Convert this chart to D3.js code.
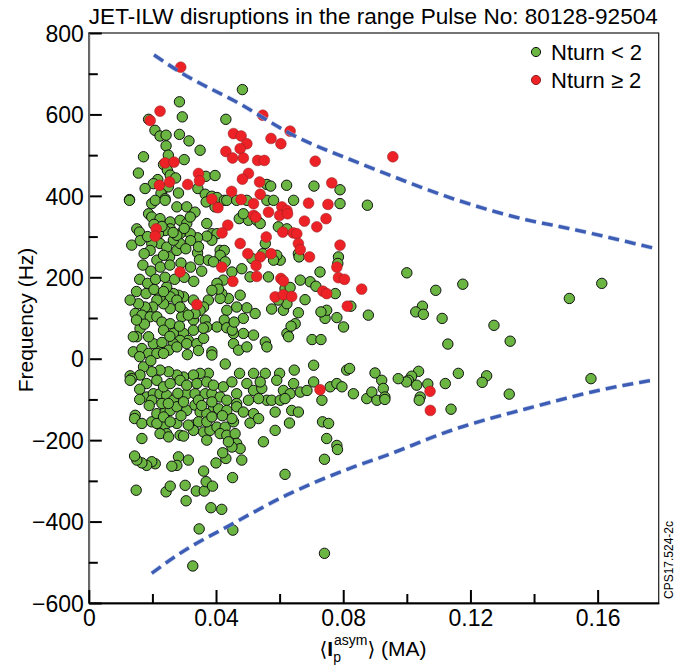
<!DOCTYPE html>
<html>
<head>
<meta charset="utf-8">
<script src="https://cdn.jsdelivr.net/npm/d3@7"></script>
<style>
  html, body { margin: 0; padding: 0; background: #fff; }
  svg { display: block; }
  text { font-family: "Liberation Sans", Arial, sans-serif; fill: #000; }
</style>
</head>
<body>
<svg id="chart" width="689" height="668"></svg>
<script>
// ---------------- DATA ----------------
const titleText = "JET-ILW disruptions in the range Pulse No: 80128-92504";
const xTicksMajor = [0, 0.04, 0.08, 0.12, 0.16];
const xTicksMinor = [0.02, 0.06, 0.10, 0.14];
const yTicksMajor = [-600, -400, -200, 0, 200, 400, 600, 800];
const yTicksMinor = [-500, -300, -100, 100, 300, 500, 700];
const legendLabels = ["Nturn < 2", "Nturn \u2265 2"];

// Nturn < 2 (green)  [<Ip asym> (MA), frequency (Hz)]
const nturnLow = [
[0.0483,661],[0.0285,631],[0.0294,594],[0.0188,588],[0.0431,588],[0.0208,561],[0.0224,547],[0.0243,549],[0.0285,551],[0.0315,535],
[0.0243,523],[0.0350,512],[0.0172,496],[0.0250,500],[0.0300,489],[0.0235,477],[0.0156,456],[0.0247,463],[0.0256,451],[0.0273,444],
[0.0368,448],[0.0397,450],[0.0217,440],[0.0203,430],[0.0177,418],[0.0235,418],[0.0250,422],[0.0343,418],[0.0227,406],[0.0282,407],
[0.0366,404],[0.0387,399],[0.0403,396],[0.0426,389],[0.0560,428],[0.0572,424],[0.0622,426],[0.0708,424],[0.0790,415],[0.0128,391],
[0.0240,393],
[0.0128,389],[0.0198,381],[0.0209,389],[0.0240,389],[0.0277,373],[0.0308,373],[0.0334,360],[0.0369,385],[0.0397,373],[0.0434,389],
[0.0465,389],[0.0497,389],[0.0473,344],[0.0502,340],[0.0528,340],[0.0486,356],[0.0560,389],[0.0581,389],[0.0644,389],[0.0790,381],
[0.0876,377],[0.0188,356],[0.0198,348],[0.0224,344],[0.0256,336],[0.0287,340],[0.0308,332],[0.0319,348],[0.0371,332],[0.0387,307],
[0.0403,307],[0.0387,291],[0.0371,301],[0.0342,297],[0.0319,307],[0.0287,307],[0.0256,319],[0.0240,315],[0.0219,307],[0.0224,283],
[0.0198,283],[0.0193,266],[0.0151,319],[0.0159,311],[0.0135,279],[0.0174,258],[0.0245,274],[0.0254,250],[0.0214,242],[0.0235,254],
[0.0277,266],[0.0287,283],[0.0266,291],[0.0277,303],[0.0342,260],[0.0348,243],[0.0413,266],[0.0426,266],[0.0413,254],[0.0376,242],
[0.0392,238],[0.0429,238],[0.0481,221],[0.0450,213],[0.0507,201],[0.0565,201],[0.0513,246],[0.0555,283],[0.0547,258],[0.0602,242],
[0.0591,254],[0.0581,242],[0.0659,258],[0.0661,250],[0.0596,324],[0.0623,319],[0.0539,332],[0.0727,213],[0.0696,189],[0.0665,193],
[0.0714,178],[0.0775,160],[0.0785,250],[0.0783,234],[0.0879,107],[0.0824,129],[0.0801,78],[0.0780,101],[0.0743,99],[0.0748,119],
[0.0730,115],[0.0680,145],[0.0659,113],[0.0649,86],[0.0623,62],[0.0628,54],[0.0636,80],[0.0612,119],[0.0623,135],[0.0596,144],
[0.0617,172],[0.0633,175],[0.0575,122],[0.0523,111],[0.0497,125],[0.0486,62],[0.0518,58],[0.0555,41],[0.0560,29],[0.0455,37],
[0.0455,62],[0.0486,99],[0.0465,127],[0.0434,119],[0.0426,95],[0.0403,78],[0.0434,76],[0.0451,70],[0.0457,90],[0.0476,156],
[0.0439,148],[0.0418,160],[0.0413,148],[0.0423,193],[0.0403,185],[0.0408,171],[0.0387,168],[0.0376,144],[0.0361,127],[0.0350,119],
[0.0366,95],[0.0371,78],[0.0329,95],[0.0334,111],[0.0298,115],[0.0292,103],[0.0313,107],[0.0329,144],[0.0298,152],[0.0282,156],
[0.0266,160],[0.0245,176],[0.0256,152],[0.0277,144],[0.0287,127],[0.0256,123],[0.0235,135],[0.0224,152],[0.0214,144],[0.0201,127],
[0.0182,119],[0.0177,127],[0.0156,135],[0.0130,144],[0.0146,111],[0.0167,107],[0.0193,103],[0.0214,103],[0.0230,90],[0.0256,86],
[0.0235,70],[0.0266,62],[0.0298,62],[0.0329,70],[0.0313,45],[0.0287,45],[0.0266,37],[0.0251,21],[0.0219,29],[0.0203,37],
[0.0188,54],[0.0161,74],[0.0151,54],[0.0140,54],[0.0140,17],[0.0167,25],[0.0188,13],[0.0214,13],[0.0235,13],[0.0277,29],
[0.0308,37],[0.0340,37],[0.0361,50],[0.0387,17],[0.0387,9],[0.0429,-13],[0.0471,21],[0.0497,29],[0.0702,47],[0.0730,47],
[0.0707,-16],[0.0646,-28],[0.0600,-36],[0.0555,-36],[0.0518,-36],[0.0474,-36],[0.0376,-36],[0.0350,-36],[0.0329,-40],[0.0298,-45],
[0.0277,-40],[0.0251,-32],[0.0224,-28],[0.0198,-32],[0.0172,-20],[0.0161,-40],[0.0130,-42],[0.0135,-49],[0.0811,-28],[0.0820,-24],
[0.0900,-35],
[0.0130,-53],[0.0182,-61],[0.0214,-53],[0.0287,-53],[0.0340,-61],[0.0371,-57],[0.0423,-69],[0.0465,-86],[0.0497,-61],[0.0518,-78],
[0.0544,-73],[0.0560,-102],[0.0575,-102],[0.0602,-102],[0.0612,-78],[0.0633,-86],[0.0665,-82],[0.0686,-78],[0.0707,-57],[0.0733,-102],
[0.0759,-69],[0.0780,-61],[0.0796,-69],[0.0832,-86],[0.0874,-98],[0.0890,-82],[0.0906,-102],[0.0182,-94],[0.0203,-86],[0.0224,-86],
[0.0245,-90],[0.0266,-102],[0.0308,-86],[0.0334,-86],[0.0366,-86],[0.0387,-86],[0.0413,-94],[0.0434,-102],[0.0465,-110],[0.0146,-139],
[0.0144,-147],[0.0167,-159],[0.0198,-155],[0.0214,-135],[0.0240,-131],[0.0256,-127],[0.0277,-118],[0.0308,-127],[0.0334,-114],[0.0350,-131],
[0.0371,-135],[0.0392,-118],[0.0408,-123],[0.0434,-127],[0.0465,-118],[0.0486,-131],[0.0518,-135],[0.0507,-158],[0.0534,-147],[0.0586,-131],
[0.0617,-98],[0.0638,-127],[0.0659,-131],[0.0735,-155],[0.0754,-159],[0.0586,-176],[0.0631,-158],[0.0549,-204],[0.0748,-196],[0.0780,-213],
[0.0782,-223],[0.0741,-247],[0.0617,-284],[0.0167,-196],[0.0230,-168],[0.0240,-163],[0.0245,-184],[0.0224,-184],[0.0251,-192],[0.0287,-188],
[0.0298,-190],[0.0329,-163],[0.0345,-155],[0.0361,-180],[0.0381,-176],[0.0403,-168],[0.0429,-168],[0.0413,-184],[0.0434,-188],[0.0455,-155],
[0.0450,-147],[0.0460,-184],[0.0465,-208],[0.0476,-221],[0.0481,-249],[0.0450,-217],[0.0439,-204],[0.0431,-245],[0.0421,-231],[0.0400,-256],
[0.0371,-200],[0.0329,-176],[0.0313,-249],[0.0282,-241],[0.0277,-262],[0.0261,-264],[0.0209,-258],[0.0198,-253],[0.0182,-262],[0.0167,-256],
[0.0151,-249],[0.0144,-239],[0.0149,-323],[0.0243,-327],[0.0256,-313],[0.0303,-311],[0.0306,-349],[0.0338,-325],[0.0363,-325],[0.0369,-302],
[0.0389,-313],[0.0361,-276],[0.0452,-292],[0.0418,-370],[0.0384,-366],[0.0347,-418],[0.0453,-421],[0.0327,-509],[0.0741,-478],
[0.0235,-69],[0.0256,-61],[0.0308,-65],[0.0392,-65],[0.0450,-57],[0.0539,-57],[0.0591,-53],[0.0644,-61],[0.0198,-102],[0.0230,-110],
[0.0298,-106],[0.0345,-102],[0.0387,-106],[0.0502,-102],[0.0534,-98],[0.0214,-159],[0.0277,-159],[0.0313,-163],[0.0371,-155],[0.0387,-143],
[0.0235,-143],[0.0256,-155],
[0.0162,290],[0.0185,300],[0.0205,330],[0.0230,325],[0.0265,310],[0.0300,320],[0.0320,290],[0.0345,275],[0.0305,270],[0.0170,230],
[0.0195,215],[0.0225,225],[0.0255,230],[0.0290,235],[0.0320,225],[0.0355,215],[0.0160,195],[0.0185,185],[0.0210,195],[0.0240,200],
[0.0270,195],[0.0300,200],[0.0330,190],[0.0150,165],[0.0180,160],[0.0205,170],[0.0235,165],[0.0160,5],[0.0195,-5],[0.0230,40],
[0.0255,55],[0.0285,80],[0.0310,10],[0.0345,20],[0.0360,75],[0.0175,85],[0.0150,95],[0.0160,-75],[0.0190,-115],[0.0250,-110],
[0.0280,-85],[0.0355,-115],[0.0420,-140],[0.0290,-140],[0.0160,-100],
[0.1000,211],[0.1091,168],[0.1176,183],[0.1049,129],[0.1028,115],[0.1052,109],[0.1111,99],[0.1511,148],[0.1613,185],[0.1274,82],
[0.1325,43],[0.1129,36],[0.1162,-36],[0.1251,-42],[0.1237,-58],[0.1579,-49],[0.1121,-61],[0.1066,-62],[0.1037,-31],[0.1015,-43],
[0.1005,-53],[0.1031,-65],[0.0999,-57],[0.0973,-49],[0.0921,-53],[0.0926,-73],[0.0931,-94],[0.1322,-87],[0.1042,-94],[0.1139,-124],
[0.1039,-102],[0.0931,-100]
];

// Nturn >= 2 (red)
const nturnHigh = [
[0.0289,716],[0.0224,608],[0.0193,585],[0.0547,598],[0.0633,559],[0.0455,553],[0.0479,547],[0.0497,528],[0.0476,516],[0.0573,541],
[0.0604,528],[0.0431,509],[0.0452,493],[0.0486,493],[0.0531,487],[0.0552,487],[0.0712,485],[0.0240,481],[0.0268,483],[0.0345,455],
[0.0348,437],[0.0502,455],[0.0483,441],[0.0222,426],[0.0254,434],[0.0311,428],[0.0537,434],[0.0764,432],[0.0449,411],[0.0539,404],
[0.0387,392],[0.0479,391],[0.0956,496],
[0.0406,371],[0.0518,381],[0.0518,352],[0.0525,348],[0.0565,360],[0.0607,373],[0.0623,364],[0.0600,352],[0.0625,356],[0.0691,382],
[0.0752,379],[0.0212,319],[0.0209,301],[0.0437,328],[0.0419,309],[0.0678,338],[0.0717,324],[0.0746,344],[0.0558,299],[0.0610,311],
[0.0643,309],[0.0654,307],[0.0476,283],[0.0500,258],[0.0539,250],[0.0573,258],[0.0659,283],[0.0665,268],[0.0694,250],[0.0790,279],
[0.0526,229],[0.0418,225],[0.0780,225],[0.0287,213],[0.0528,202],[0.0453,190],[0.0604,197],[0.0612,191],[0.0785,199],[0.0804,195],
[0.0858,171],[0.0736,166],[0.0748,160],[0.0586,152],[0.0612,157],[0.0638,153],[0.0340,133],[0.0813,129],[0.0727,-76],
[0.1073,-80],[0.1074,-127]
];

// dashed envelope curves
const upperBound = [[0.0205,746],[0.0287,704],[0.0475,626],[0.0643,549],[0.0842,483],[0.0916,460],[0.1157,390],[0.1377,341],[0.1503,321],[0.1774,272]];
const lowerBound = [[0.0198,-527],[0.0287,-478],[0.0444,-409],[0.0622,-335],[0.0832,-266],[0.0937,-237],[0.1125,-180],[0.1419,-114],[0.1608,-77],[0.1770,-53]];

// ---------------- DRAW ----------------
const svg = d3.select("#chart");
const L = 88.8, R = 658.7, T = 33, B = 603;
const x = d3.scaleLinear().domain([0, 0.1792]).range([L, R]);
const y = d3.scaleLinear().domain([-600, 800]).range([B, T]);

const greenFill = "#6bb543", redFill = "#ec2227", blue = "#3d5db5";

// plot frame
svg.append("rect").attr("x", L).attr("y", T).attr("width", R - L).attr("height", B - T)
  .attr("fill", "none").attr("stroke", "#1a1a1a").attr("stroke-width", 1.2);

// points
const gPts = svg.append("g");
gPts.selectAll("circle.g").data(nturnLow).join("circle").attr("class", "g")
  .attr("cx", d => x(d[0])).attr("cy", d => y(d[1])).attr("r", 5.2)
  .attr("fill", greenFill).attr("stroke", "#111").attr("stroke-width", 1);
gPts.selectAll("circle.r").data(nturnHigh).join("circle").attr("class", "r")
  .attr("cx", d => x(d[0])).attr("cy", d => y(d[1])).attr("r", 5.4)
  .attr("fill", redFill).attr("stroke", "#8a2020").attr("stroke-width", 0.5);

// dashed bounds
const line = d3.line().x(d => x(d[0])).y(d => y(d[1])).curve(d3.curveMonotoneX);
[upperBound, lowerBound].forEach(b => {
  svg.append("path").attr("d", line(b)).attr("fill", "none")
    .attr("stroke", "#9fb2e0").attr("stroke-width", 4.6).attr("stroke-dasharray", "11,6").attr("opacity", 0.6);
  svg.append("path").attr("d", line(b)).attr("fill", "none")
    .attr("stroke", blue).attr("stroke-width", 3.3).attr("stroke-dasharray", "11,6");
});

// axes
const yAxisMaj = d3.axisLeft(y).tickValues(yTicksMajor).tickSizeInner(-13).tickSizeOuter(0).tickPadding(5)
  .tickFormat(d => d < 0 ? "\u2212" + Math.abs(d) : String(d));
const yAxisMin = d3.axisLeft(y).tickValues(yTicksMinor).tickSizeInner(-9).tickSizeOuter(0).tickFormat("");
const xAxisMaj = d3.axisBottom(x).tickValues(xTicksMajor).tickSizeInner(-13).tickSizeOuter(0).tickPadding(7)
  .tickFormat(d => d === 0 ? "0" : d3.format(".2f")(d));
const xAxisMin = d3.axisBottom(x).tickValues(xTicksMinor).tickSizeInner(-9).tickSizeOuter(0).tickFormat("");

function styleAxis(g, col) {
  g.select(".domain").attr("stroke", col).attr("stroke-width", 1.6);
  g.selectAll(".tick line").attr("stroke", "#000").attr("stroke-width", 2);
  g.selectAll("text").attr("font-family", "Liberation Sans, Arial, sans-serif").attr("font-size", 23).attr("fill", "#000");
}
const gy = svg.append("g").attr("transform", `translate(${L},0)`).call(yAxisMaj); styleAxis(gy, "#6e6e6e");
gy.selectAll("text").attr("dy", "0.36em");
const gy2 = svg.append("g").attr("transform", `translate(${L},0)`).call(yAxisMin); styleAxis(gy2, "#6e6e6e");
const gx = svg.append("g").attr("transform", `translate(0,${B})`).call(xAxisMaj); styleAxis(gx, "#000");
const gx2 = svg.append("g").attr("transform", `translate(0,${B})`).call(xAxisMin); styleAxis(gx2, "#000");

// title
svg.append("text").attr("x", L).attr("y", 24).attr("font-size", 22)
  .attr("textLength", 569).attr("lengthAdjust", "spacingAndGlyphs").text(titleText);

// y label
svg.append("text").attr("transform", `translate(33,${(T + B) / 2 + 2}) rotate(-90)`)
  .attr("text-anchor", "middle").attr("font-size", 21).text("Frequency (Hz)");

// x label
const xl = svg.append("text").attr("x", 373).attr("y", 656).attr("text-anchor", "middle").attr("font-size", 21);
xl.append("tspan").attr("font-family", "DejaVu Sans").attr("font-size", 20).text("\u27E8");
xl.append("tspan").attr("font-weight", "bold").text("I");
xl.append("tspan").attr("font-size", 14).attr("dy", 6).text("p");
xl.append("tspan").attr("font-size", 14).attr("dx", -7).attr("dy", -17).text("asym");
xl.append("tspan").attr("font-family", "DejaVu Sans").attr("font-size", 20).attr("dy", 11).text("\u27E9");
xl.append("tspan").text(" (MA)");

// legend
const legItems = [{label: legendLabels[0], fill: greenFill, stroke: "#111"}, {label: legendLabels[1], fill: redFill, stroke: "#8a2020"}];
legItems.forEach((it, i) => {
  svg.append("circle").attr("cx", 536).attr("cy", 52 + i * 28).attr("r", 4.6)
    .attr("fill", it.fill).attr("stroke", it.stroke).attr("stroke-width", 1);
  svg.append("text").attr("x", 551).attr("y", 60 + i * 28).attr("font-size", 22).text(it.label);
});

// side code
svg.append("text").attr("transform", "translate(673,560) rotate(-90)").attr("text-anchor", "middle")
  .attr("font-size", 12).text("CPS17.524-2c");
</script>
</body>
</html>
